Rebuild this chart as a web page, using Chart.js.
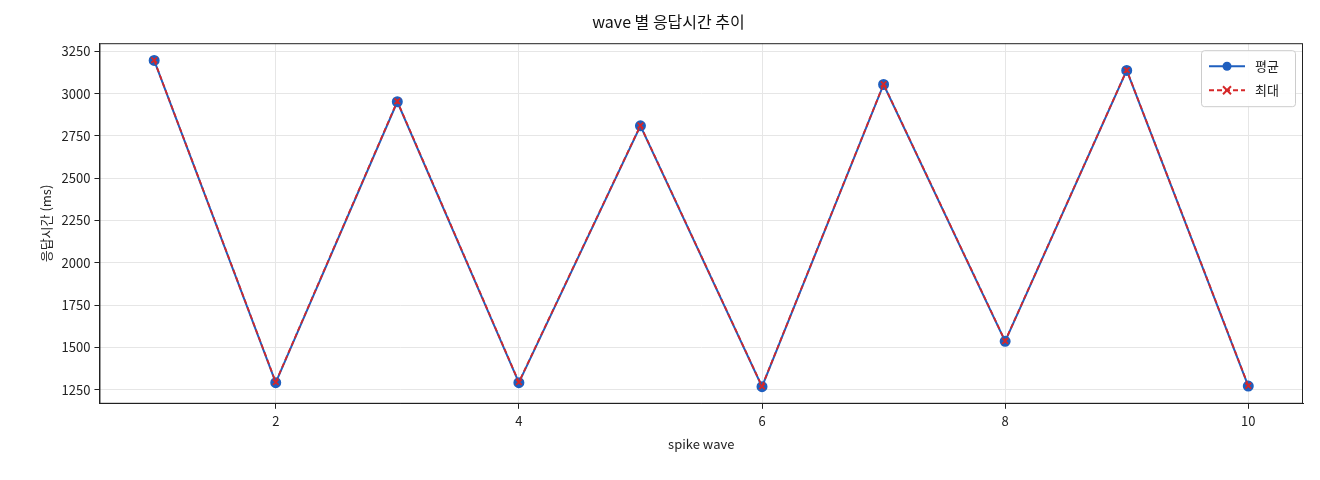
<!DOCTYPE html>
<html><head><meta charset="utf-8">
<script src="https://cdn.jsdelivr.net/npm/chart.js@4/dist/chart.umd.min.js"></script>
<style>html,body{margin:0;background:#fff}#w{width:1320px;height:480px}</style>
</head><body><div id="w"><canvas id="c"></canvas></div>
<script>
const waves = [1,2,3,4,5,6,7,8,9,10];
const avgMs = [3196,1292,2952,1292,2810,1268,3054,1536,3137,1272];
const maxMs = [3198,1295,2955,1295,2812,1270,3056,1538,3139,1274];
const xTicks = [2,4,6,8,10];
const yTicks = [1250,1500,1750,2000,2250,2500,2750,3000,3250];
const F = "'Noto Sans CJK KR','DejaVu Sans',sans-serif";
Chart.defaults.font.family = F;
Chart.defaults.color = '#222';
const legendPlugin = {
  id:'lg',
  afterDraw(ch){
    const c=ch.ctx, a=ch.chartArea;
    c.save();
    c.strokeStyle='#222';c.lineWidth=1;c.strokeRect(a.left+.5,a.top+.5,a.right-a.left-1,a.bottom-a.top-1);
    const w=94,h=56,x=a.right-w-8,y=a.top+7;
    c.fillStyle='rgba(255,255,255,0.9)';c.strokeStyle='#ccc';c.lineWidth=1;
    c.beginPath();c.roundRect(x+.5,y+.5,w,h,3);c.fill();c.stroke();
    const items=[['평균','#1f5fbf',false],['최대','#d62728',true]];
    items.forEach((it,i)=>{
      const cy=y+16+i*24;
      c.strokeStyle=it[1];c.lineWidth=2;c.setLineDash(it[2]?[5,3]:[]);
      c.beginPath();c.moveTo(x+8,cy);c.lineTo(x+44,cy);c.stroke();c.setLineDash([]);
      if(it[2]){c.beginPath();c.moveTo(x+22,cy-4);c.lineTo(x+30,cy+4);c.moveTo(x+30,cy-4);c.lineTo(x+22,cy+4);c.stroke();}
      else{c.fillStyle=it[1];c.beginPath();c.arc(x+26,cy,4.5,0,7);c.fill();}
      c.fillStyle='#222';c.font='13px '+F;c.textBaseline='middle';c.fillText(it[0],x+54,cy);
    });
    c.restore();
  }
};
new Chart(document.getElementById('c'),{
  type:'line',
  data:{datasets:[
    {label:'평균',order:2,data:waves.map((x,i)=>({x,y:avgMs[i]})),borderColor:'#1f5fbf',backgroundColor:'#1f5fbf',borderWidth:2,pointRadius:4.5,pointStyle:'circle',tension:0},
    {label:'최대',order:1,data:waves.map((x,i)=>({x,y:maxMs[i]})),borderColor:'#d62728',backgroundColor:'#d62728',borderWidth:1.8,borderDash:[5,3],pointRadius:4,pointStyle:'crossRot',pointBorderWidth:1.8,tension:0}
  ]},
  plugins:[legendPlugin],
  options:{
    responsive:true,maintainAspectRatio:false,animation:false,
    layout:{padding:{left:34,right:17,top:4,bottom:24}},
    plugins:{legend:{display:false},tooltip:{enabled:false},
      title:{display:true,text:'wave 별 응답시간 추이',font:{size:16,weight:'normal'},color:'#111',padding:{top:8,bottom:12}}},
    scales:{
      x:{type:'linear',min:0.55,max:10.45,
        afterBuildTicks(s){s.ticks=xTicks.map(v=>({value:v}));},
        grid:{color:'#e6e6e6',drawTicks:true,tickColor:'#222',tickLength:5},
        border:{color:'#222',width:1},
        ticks:{font:{size:13},color:'#222',padding:4,callback:v=>String(v)},
        title:{display:true,text:'spike wave',font:{size:13},color:'#222',padding:{top:4}}},
      y:{min:1167,max:3298,
        afterBuildTicks(s){s.ticks=yTicks.map(v=>({value:v}));},
        grid:{color:'#e6e6e6',tickColor:'#222',tickLength:5},
        border:{color:'#222',width:1},
        ticks:{font:{size:13},color:'#222',padding:4,callback:v=>String(v)},
        title:{display:true,text:'응답시간 (ms)',font:{size:13},color:'#222'}}
    }
  }
});
</script></body></html>
